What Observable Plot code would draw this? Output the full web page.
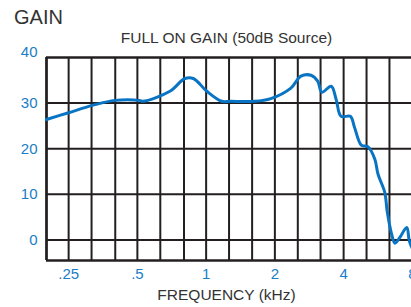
<!DOCTYPE html>
<html>
<head>
<meta charset="utf-8">
<script src="https://cdn.jsdelivr.net/npm/d3@7"></script>
<script src="https://cdn.jsdelivr.net/npm/@observablehq/plot@0.6"></script>
<style>
  html, body { margin: 0; padding: 0; background: #fff; overflow: hidden; width: 411px; height: 307px; }
  #wrap { position: relative; width: 411px; height: 307px; overflow: hidden; font-family: "Liberation Sans", Arial, sans-serif; }
  .lbl { position: absolute; line-height: 1; white-space: nowrap; color: #333; }
  #title { left: 14px; top: 7px; font-size: 20px; }
  #subtitle { left: 226.5px; top: 29.5px; font-size: 15.5px; transform: translateX(-50%); }
  #xlabel { left: 226.5px; top: 287px; font-size: 15.5px; transform: translateX(-50%); }
  #chart { position: absolute; left: 0; top: 0; }
</style>
</head>
<body>
<div id="wrap">
  <div id="chart"></div>
  <div class="lbl" id="title">GAIN</div>
  <div class="lbl" id="subtitle">FULL ON GAIN (50dB Source)</div>
  <div class="lbl" id="xlabel">FREQUENCY (kHz)</div>
</div>
<script>
// Frequency response (kHz, dB)
const freqKHz = [0.2, 0.25, 0.318, 0.398, 0.511, 0.529, 0.694, 0.808, 0.879, 1.007, 1.17, 1.28, 1.62, 1.92, 2.35, 2.6, 2.88, 3.08, 3.21, 3.53, 3.71, 3.9, 4.28, 4.47, 4.78, 5.12, 5.48, 5.66, 6.06, 6.2, 6.49, 6.71, 7.06, 7.56, 7.75, 7.95, 8.3];
const gainDB  = [26.4, 27.9, 29.5, 30.6, 30.6, 30.4, 32.6, 35.4, 35.4, 32.6, 30.4, 30.4, 30.4, 31.0, 33.3, 35.9, 36.1, 34.8, 32.4, 33.7, 30.8, 27.1, 27.1, 24.6, 20.8, 20.4, 17.7, 14.4, 10.4, 6.4, 1.3, -0.7, 0.6, 2.75, -0.15, -1.6, -3.5];

// Grid (1/3 octave) and tick labels
const gridFreqs = [0.2, 0.25, 0.315, 0.4, 0.5, 0.63, 0.8, 1, 1.26, 1.59, 2, 2.52, 3.17, 4, 5.04, 6.35, 8, 10];
const xTicks = [0.25, 0.5, 1, 2, 4, 8];
const xTickLabels = [".25", ".5", "1", "2", "4", "8"];
const yTicks = [0, 10, 20, 30];
const yTopTick = [40];
const yGrid = [0, 10, 20, 30];

const data = freqKHz.map((f, i) => ({f, g: gainDB[i]}));
const xLabelData = xTicks.map((f, i) => ({f, label: xTickLabels[i]}));
const blueText = "#1a7dc6";
const gridColor = "#231f20";

const chart = Plot.plot({
  width: 411,
  height: 307,
  marginTop: 57,
  marginBottom: 47,
  marginLeft: 46,
  marginRight: 0,
  style: {fontFamily: "'Liberation Sans', Arial, sans-serif", background: "transparent"},
  x: {type: "log", domain: [0.2, 10], range: [46, 434], axis: null},
  y: {domain: [-4.5, 40], axis: null},
  marks: [
    Plot.ruleX(gridFreqs, {x: d => d, stroke: gridColor, strokeWidth: 2}),
    Plot.ruleY(yGrid, {y: d => d, stroke: gridColor, strokeWidth: 2}),
    Plot.ruleY([40, -4.5], {y: d => d, stroke: gridColor, strokeWidth: 2.5}),
    Plot.ruleX([0.2], {x: d => d, stroke: gridColor, strokeWidth: 2.5}),
    Plot.line(data, {x: "f", y: "g", stroke: "#0a74c4", strokeWidth: 3, curve: "catmull-rom"}),
    Plot.text(xLabelData, {x: "f", text: "label", frameAnchor: "bottom", lineAnchor: "top", dy: 8, fontSize: 15, fill: blueText}),
    Plot.axisY(yTicks, {tickSize: 0, tickPadding: 9, fontSize: 15, fill: blueText, label: null}),
    Plot.axisY(yTopTick, {tickSize: 0, tickPadding: 9, fontSize: 15, fill: blueText, label: null, dy: -5})
  ]
});
document.getElementById("chart").appendChild(chart);
</script>
</body>
</html>
